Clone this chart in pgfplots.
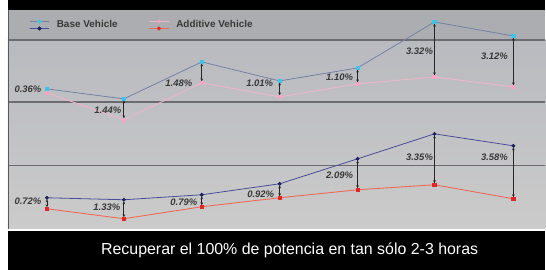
\documentclass[border=0pt]{standalone}
\usepackage{fontspec}
\setmainfont{Liberation Sans}
\usepackage{pgfplots}
\usepackage{pgfplotstable}
\pgfplotsset{compat=1.18}
\usetikzlibrary{arrows.meta}
\definecolor{ubline}{HTML}{7482A6}
\definecolor{ubmark}{HTML}{3CC4EA}
\definecolor{ualine}{HTML}{EDB6C8}
\definecolor{uamark}{HTML}{F4A6C4}
\definecolor{lbline}{HTML}{4A4C9A}
\definecolor{lbmark}{HTML}{1E2060}
\definecolor{laline}{HTML}{EE6A55}
\definecolor{lamark}{HTML}{E42626}
\definecolor{gridl}{HTML}{6C6C70}
\definecolor{legbg}{HTML}{ACADB1}
\definecolor{bgtop}{HTML}{B9BABF}
\definecolor{bgbot}{HTML}{CBCBCB}
\definecolor{labc}{HTML}{383838}

\pgfplotstableread{
x ub ua lb la
47 181 177 72 61
124 171 150 70 51
202 208 187 75 63
280 189 173 86 72
358 202 186 111 80
435 248 193 136 85
514 234 183 124 71
}\data

\pgfplotstableread{
x y lab
28 181 0.36
108 160 1.44
179 187 1.48
260 187 1.01
340 193 1.10
420 219 3.32
495 214 3.12
28 69 0.72
107 63 1.33
184 68 0.79
261 76 0.92
340 95 2.09
420 113 3.35
495 113 3.58
}\labs

\begin{document}
\begin{tikzpicture}
\begin{axis}[at={(0,0)},anchor=south west,
  scale only axis, width=546bp, height=270bp,
  xmin=0, xmax=546, ymin=0, ymax=270,
  axis lines=none, clip=false,
  legend columns=2,
  legend style={draw=none, fill=none, at={(axis cs:26,245)}, anchor=west,
    font=\bfseries\fontsize{10}{12}\selectfont, text=labc,
    /tikz/every odd column/.append style={column sep=5bp},
    /tikz/every even column/.append style={column sep=29bp}},
  legend cell align=left,
]
% background
\fill[white] (axis cs:0,0) rectangle (axis cs:546,270);
\fill[black] (axis cs:8,0) rectangle (axis cs:546,39);
\fill[black] (axis cs:8,260) rectangle (axis cs:546,270);
\fill[legbg] (axis cs:8,230) rectangle (axis cs:546,260);
\shade[top color=bgtop, bottom color=bgbot] (axis cs:8,41) rectangle (axis cs:546,230);
\draw[gridl, line width=1.3bp] (axis cs:8,230) -- (axis cs:546,230);
\draw[gridl, line width=1.3bp] (axis cs:8,168) -- (axis cs:546,168);
\draw[gridl, line width=1.1bp] (axis cs:8,104) -- (axis cs:546,104);
\draw[gray!70!black, line width=0.8bp] (axis cs:8.4,41) -- (axis cs:8.4,260);

% legend images
\addlegendimage{legend image code/.code={
  \draw[ubline, line width=0.7bp] (0bp,3.5bp) -- (20bp,3.5bp);
  \fill[ubmark] (10bp,3.5bp) circle (1.8bp);
  \draw[lbline, line width=0.7bp] (0bp,-3.5bp) -- (20bp,-3.5bp);
  \fill[lbmark] (10bp,-3.5bp) circle (1.8bp);
}}
\addlegendentry{Base Vehicle}
\addlegendimage{legend image code/.code={
  \draw[ualine, line width=0.7bp] (0bp,3.5bp) -- (20bp,3.5bp);
  \fill[uamark] (10bp,3.5bp) circle (1.8bp);
  \draw[laline, line width=0.7bp] (0bp,-3.5bp) -- (20bp,-3.5bp);
  \fill[lamark] (10bp,-3.5bp) circle (1.8bp);
}}
\addlegendentry{Additive Vehicle}

% series
\addplot[ualine, line width=0.9bp, mark=square*, mark size=1.6bp, mark options={fill=uamark, draw=uamark}, forget plot] table[x=x, y=ua] {\data};
\addplot[ubline, line width=0.8bp, mark=square*, mark size=1.6bp, mark options={fill=ubmark, draw=ubmark}, forget plot] table[x=x, y=ub] {\data};
\addplot[laline, line width=0.9bp, mark=square*, mark size=1.6bp, mark options={fill=lamark, draw=lamark}, forget plot] table[x=x, y=la] {\data};
\addplot[lbline, line width=0.8bp, mark=*, mark size=1.5bp, mark options={fill=lbmark, draw=lbmark}, forget plot] table[x=x, y=lb] {\data};

% arrows
\addplot[forget plot, quiver={u=0, v=\thisrow{ua}-\thisrow{ub},
   every arrow/.append style={black!85, line width=0.8bp, shorten >=1.5bp, shorten <=1.5bp, {Stealth[length=3bp,width=2.6bp]}-{Stealth[length=3bp,width=2.6bp]}}}]
   table[x=x, y=ub] {\data};
\addplot[forget plot, quiver={u=0, v=\thisrow{la}-\thisrow{lb},
   every arrow/.append style={black!85, line width=0.8bp, shorten >=1.5bp, shorten <=1.5bp, {Stealth[length=3bp,width=2.6bp]}-{Stealth[length=3bp,width=2.6bp]}}}]
   table[x=x, y=lb] {\data};

% labels
\addplot[forget plot, only marks, mark=none, point meta=explicit symbolic,
  nodes near coords={\pgfplotspointmeta\%},
  nodes near coords style={anchor=center, text=labc, font=\bfseries\itshape\fontsize{9.5}{11}\selectfont}]
  table[x=x, y=y, meta=lab] {\labs};

\node[white, font=\fontsize{16}{19}\selectfont] at (axis cs:290,19) {Recuperar el 100\% de potencia en tan sólo 2-3 horas};
\end{axis}
\end{tikzpicture}
\end{document}
